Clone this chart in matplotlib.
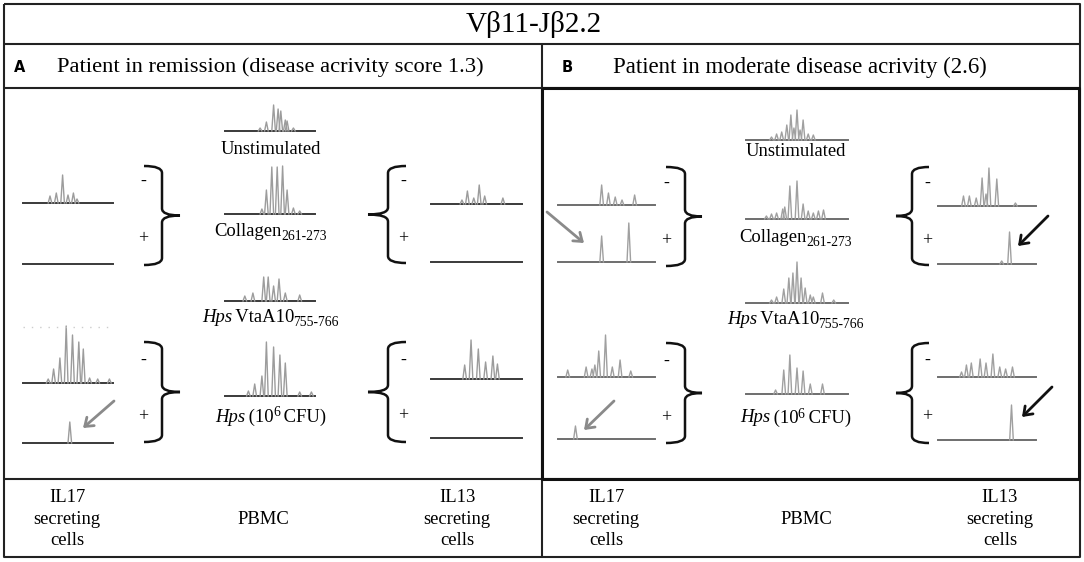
import matplotlib
matplotlib.use('Agg')
import matplotlib.pyplot as plt
from matplotlib.path import Path
from matplotlib.patches import PathPatch

plt.rcParams['font.family'] = ['Liberation Serif', 'DejaVu Serif']

# peak positions (fraction of trace width) and heights (px)
a_il17_col_minus_pos = [0.30, 0.37, 0.44, 0.50, 0.56, 0.60]
a_il17_col_minus_h = [7, 10, 28, 8, 10, 4]
a_il17_col_plus_pos = []
a_il17_col_plus_h = []
a_il17_hps_minus_pos = [0.28, 0.34, 0.41, 0.48, 0.55, 0.62, 0.67, 0.74, 0.83, 0.96]
a_il17_hps_minus_h = [4, 14, 25, 57, 48, 41, 34, 5, 4, 4]
a_il17_hps_plus_pos = [0.52]
a_il17_hps_plus_h = [21]

a_unstim_pos = [0.39, 0.46, 0.54, 0.59, 0.62, 0.67, 0.69, 0.76]
a_unstim_h = [3, 9, 26, 22, 20, 11, 10, 3]
a_collagen_pos = [0.41, 0.46, 0.52, 0.58, 0.64, 0.69, 0.76, 0.83]
a_collagen_h = [5, 24, 47, 47, 48, 24, 6, 3]
a_vtaa_pos = [0.22, 0.31, 0.43, 0.48, 0.54, 0.60, 0.67, 0.83]
a_vtaa_h = [5, 8, 24, 24, 15, 22, 8, 6]
a_hps_pos = [0.26, 0.33, 0.41, 0.46, 0.54, 0.61, 0.67, 0.83, 0.96]
a_hps_h = [5, 12, 20, 54, 49, 41, 33, 4, 4]

a_il13_col_minus_pos = [0.34, 0.40, 0.47, 0.53, 0.59, 0.79]
a_il13_col_minus_h = [4, 13, 6, 19, 8, 6]
a_il13_col_plus_pos = []
a_il13_col_plus_h = []
a_il13_hps_minus_pos = [0.37, 0.44, 0.52, 0.60, 0.68, 0.73]
a_il13_hps_minus_h = [14, 39, 30, 17, 23, 15]
a_il13_hps_plus_pos = []
a_il13_hps_plus_h = []

b_il17_col_minus_pos = [0.45, 0.52, 0.59, 0.66, 0.79]
b_il17_col_minus_h = [20, 12, 8, 5, 10]
b_il17_col_plus_pos = [0.45, 0.73]
b_il17_col_plus_h = [26, 39]
b_il17_hps_minus_pos = [0.10, 0.29, 0.35, 0.38, 0.42, 0.49, 0.56, 0.64, 0.75]
b_il17_hps_minus_h = [7, 10, 8, 12, 26, 42, 10, 17, 6]
b_il17_hps_plus_pos = [0.18]
b_il17_hps_plus_h = [13]

b_unstim_pos = [0.25, 0.30, 0.35, 0.40, 0.44, 0.47, 0.50, 0.53, 0.56, 0.61, 0.66]
b_unstim_h = [3, 6, 8, 15, 25, 12, 30, 10, 20, 6, 5]
b_collagen_pos = [0.20, 0.25, 0.30, 0.36, 0.38, 0.43, 0.50, 0.56, 0.61, 0.66, 0.71, 0.76]
b_collagen_h = [3, 5, 6, 10, 12, 33, 38, 15, 8, 6, 8, 9]
b_vtaa_pos = [0.25, 0.30, 0.37, 0.42, 0.46, 0.50, 0.54, 0.58, 0.63, 0.66, 0.75, 0.86]
b_vtaa_h = [3, 6, 14, 25, 30, 41, 25, 15, 8, 6, 10, 3]
b_hps_pos = [0.29, 0.37, 0.43, 0.50, 0.56, 0.63, 0.75]
b_hps_h = [4, 24, 39, 26, 23, 10, 10]

b_il13_col_minus_pos = [0.26, 0.32, 0.39, 0.45, 0.49, 0.52, 0.60, 0.79]
b_il13_col_minus_h = [10, 10, 8, 28, 12, 38, 27, 3]
b_il13_col_plus_pos = [0.65, 0.73]
b_il13_col_plus_h = [3, 32]
b_il13_hps_minus_pos = [0.24, 0.29, 0.34, 0.43, 0.49, 0.56, 0.63, 0.69, 0.76]
b_il13_hps_minus_h = [5, 12, 14, 18, 14, 23, 10, 8, 10]
b_il13_hps_plus_pos = [0.75]
b_il13_hps_plus_h = [35]

title = 'Vβ11-Jβ2.2'
heading_a = 'Patient in remission (disease acrivity score 1.3)'
heading_b = 'Patient in moderate disease acrivity (2.6)'
col_labels = ['IL17\nsecreting\ncells', 'PBMC', 'IL13\nsecreting\ncells']

fig = plt.figure(figsize=(10.84, 5.62), dpi=100)
ax = fig.add_axes([0, 0, 1, 1])
ax.set_xlim(0, 1084)
ax.set_ylim(562, 0)
ax.axis('off')
renderer = fig.canvas.get_renderer()

frame = '#222222'


def line(xs, ys, lw=1.5, color=frame):
    ax.plot(xs, ys, color=color, lw=lw, solid_capstyle='butt')


# table frame
line([4, 1080, 1080, 4, 4], [4, 4, 557, 557, 4])
line([4, 1080], [44, 44])
line([4, 1080], [88, 88])
line([4, 1080], [479, 479])
line([542, 542], [44, 557])
line([542, 1079, 1079, 542, 542], [88, 88, 479, 479, 88], lw=2.2, color='#111111')

ax.text(534, 24, title, ha='center', va='center', fontsize=21)
ax.text(14, 67, 'A', ha='left', va='center', fontsize=10.5, fontweight='bold',
        family='DejaVu Sans')
ax.text(562, 67, 'B', ha='left', va='center', fontsize=10.5, fontweight='bold',
        family='DejaVu Sans')
ax.text(57, 67, heading_a, ha='left', va='center', fontsize=16.2)
ax.text(613, 67, heading_b, ha='left', va='center', fontsize=16.4)

for xc, lab in zip([67, 263, 457], col_labels):
    ax.text(xc, 519, lab, ha='center', va='center', fontsize=13.4, linespacing=1.33)
for xc, lab in zip([606, 806, 1000], col_labels):
    ax.text(xc, 519, lab, ha='center', va='center', fontsize=13.4, linespacing=1.33)


def trace(x0, w, yb, pos, hts, base_col, peak_col):
    ax.plot([x0, x0 + w], [yb, yb], color=base_col, lw=1.4)
    for p, h in zip(pos, hts):
        xc = x0 + p * w
        ax.plot([xc - 1.8, xc, xc + 1.8], [yb, yb - h, yb], color=peak_col, lw=1.0)


base_a, peak_a = '#3a3a3a', '#9c9c9c'
base_b, peak_b = '#6e6e6e', '#a0a0a0'

# panel A traces
trace(23, 90, 203, a_il17_col_minus_pos, a_il17_col_minus_h, base_a, peak_a)
trace(23, 90, 264, a_il17_col_plus_pos, a_il17_col_plus_h, base_a, peak_a)
trace(23, 90, 383, a_il17_hps_minus_pos, a_il17_hps_minus_h, base_a, peak_a)
trace(23, 90, 443, a_il17_hps_plus_pos, a_il17_hps_plus_h, base_a, peak_a)
ax.plot([23, 113], [327, 327], color='#cccccc', lw=1, ls=(0, (1, 5)))
trace(225, 90, 131, a_unstim_pos, a_unstim_h, base_a, peak_a)
trace(225, 90, 214, a_collagen_pos, a_collagen_h, base_a, peak_a)
trace(225, 90, 301, a_vtaa_pos, a_vtaa_h, base_a, peak_a)
trace(225, 90, 396, a_hps_pos, a_hps_h, base_a, peak_a)
trace(431, 91, 204, a_il13_col_minus_pos, a_il13_col_minus_h, base_a, peak_a)
trace(431, 91, 262, a_il13_col_plus_pos, a_il13_col_plus_h, base_a, peak_a)
trace(431, 91, 379, a_il13_hps_minus_pos, a_il13_hps_minus_h, base_a, peak_a)
trace(431, 91, 438, a_il13_hps_plus_pos, a_il13_hps_plus_h, base_a, peak_a)

# panel B traces
trace(558, 97, 205, b_il17_col_minus_pos, b_il17_col_minus_h, base_b, peak_b)
trace(558, 97, 262, b_il17_col_plus_pos, b_il17_col_plus_h, base_b, peak_b)
trace(558, 97, 377, b_il17_hps_minus_pos, b_il17_hps_minus_h, base_b, peak_b)
trace(558, 97, 439, b_il17_hps_plus_pos, b_il17_hps_plus_h, base_b, peak_b)
trace(746, 102, 140, b_unstim_pos, b_unstim_h, base_b, peak_b)
trace(746, 102, 219, b_collagen_pos, b_collagen_h, base_b, peak_b)
trace(746, 102, 303, b_vtaa_pos, b_vtaa_h, base_b, peak_b)
trace(746, 102, 394, b_hps_pos, b_hps_h, base_b, peak_b)
trace(938, 98, 206, b_il13_col_minus_pos, b_il13_col_minus_h, base_b, peak_b)
trace(938, 98, 264, b_il13_col_plus_pos, b_il13_col_plus_h, base_b, peak_b)
trace(938, 98, 377, b_il13_hps_minus_pos, b_il13_hps_minus_h, base_b, peak_b)
trace(938, 98, 440, b_il13_hps_plus_pos, b_il13_hps_plus_h, base_b, peak_b)


def brace(xv, y0, y1, xtip, xhook):
    ym = (y0 + y1) / 2
    r = 7
    verts = [(xhook, y0), (xv, y0), (xv, y0 + r),
             (xv, ym - r), (xv, ym), (xtip, ym),
             (xv, ym), (xv, ym + r),
             (xv, y1 - r), (xv, y1), (xhook, y1)]
    codes = [Path.MOVETO, Path.CURVE3, Path.CURVE3,
             Path.LINETO, Path.CURVE3, Path.CURVE3,
             Path.CURVE3, Path.CURVE3,
             Path.LINETO, Path.CURVE3, Path.CURVE3]
    ax.add_patch(PathPatch(Path(verts, codes), fill=False, lw=1.8, edgecolor='#111111'))


brace(162, 166, 265, 180, 144)
brace(162, 342, 442, 180, 144)
brace(388, 166, 263, 368, 406)
brace(388, 342, 442, 368, 406)
brace(685, 167, 266, 702, 666)
brace(685, 343, 443, 702, 666)
brace(912, 167, 265, 896, 929)
brace(912, 343, 443, 896, 929)

signs = [(143, 181, '-'), (143, 239, '+'), (143, 360, '-'), (143, 417, '+'),
         (403, 181, '-'), (403, 239, '+'), (403, 360, '-'), (403, 416, '+'),
         (666, 183, '-'), (666, 241, '+'), (666, 361, '-'), (666, 418, '+'),
         (927, 183, '-'), (927, 241, '+'), (927, 360, '-'), (927, 417, '+')]
for x, y, s in signs:
    ax.text(x, y, s, ha='center', va='center', fontsize=13)


def arrow(x0, y0, x1, y1, color, lw):
    ax.annotate('', xy=(x1, y1), xytext=(x0, y0),
                arrowprops=dict(arrowstyle='->,head_length=0.55,head_width=0.4',
                                color=color, lw=lw, shrinkA=0, shrinkB=0))


arrow(114, 401, 83, 428, '#8a8a8a', 2.0)
arrow(547, 212, 584, 243, '#8a8a8a', 2.0)
arrow(614, 401, 584, 430, '#8a8a8a', 2.0)
arrow(1048, 216, 1018, 246, '#111111', 2.0)
arrow(1052, 387, 1022, 417, '#111111', 2.0)


def label(xc, y, parts):
    # parts: (text, size, style, dy)
    texts = []
    for s, size, style, dy in parts:
        t = ax.text(0, y + dy, s, ha='left', va='center', fontsize=size, style=style)
        texts.append(t)
    widths = [t.get_window_extent(renderer).width - 1 for t in texts]
    x = xc - sum(widths) / 2
    for t, w in zip(texts, widths):
        t.set_x(x)
        x += w


def pbmc_labels(xc, ys):
    label(xc, ys[0], [('Unstimulated', 13.4, 'normal', 0)])
    label(xc, ys[1], [('Collagen', 13.4, 'normal', 0), ('261-273', 9.8, 'normal', 5)])
    label(xc, ys[2], [('Hps', 13.4, 'italic', 0), (' VtaA10', 13.4, 'normal', 0),
                      ('755-766', 9.8, 'normal', 5)])
    label(xc, ys[3], [('Hps', 13.4, 'italic', 0), (' (10', 13.4, 'normal', 0),
                      ('6', 9.8, 'normal', -4), (' CFU)', 13.4, 'normal', 0)])


pbmc_labels(270, [149, 231, 318, 417])
pbmc_labels(795, [152, 237, 320, 418])

fig.savefig('out.png', dpi=100)
